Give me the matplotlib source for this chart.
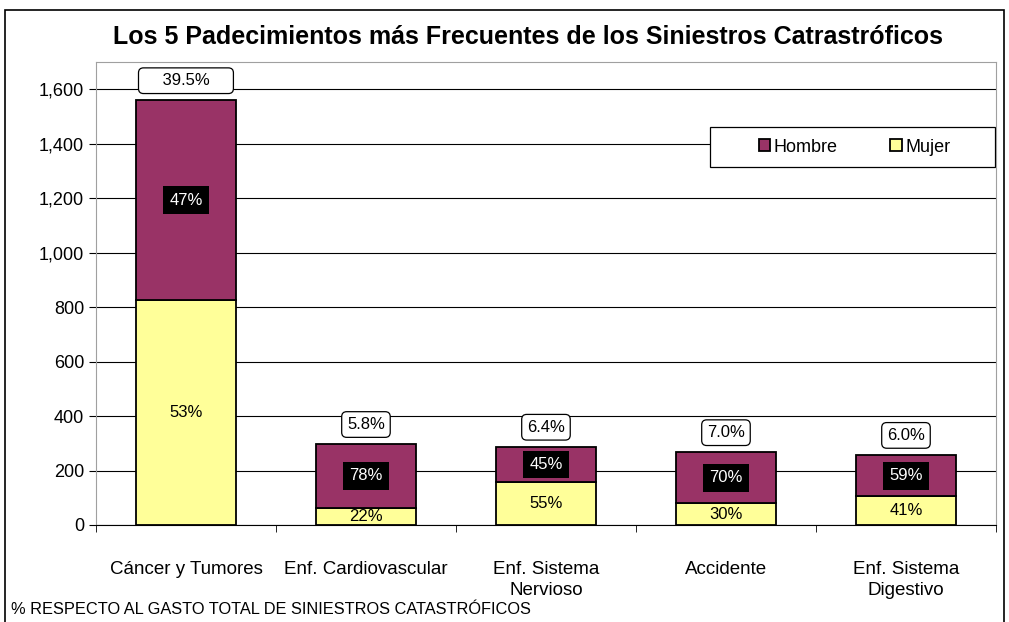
import numpy as np
import matplotlib.pyplot as plt
from matplotlib.patches import Rectangle

plt.rcParams['font.family'] = ['Liberation Sans', 'DejaVu Sans']

# ── Data ──────────────────────────────────────────────────────────────────────
categorias = ['Cáncer y Tumores', 'Enf. Cardiovascular', 'Enf. Sistema\nNervioso',
              'Accidente', 'Enf. Sistema\nDigestivo']
mujer  = [826, 64, 157, 79, 105]
hombre = [734, 233, 130, 188, 152]
pct_mujer  = ['53%', '22%', '55%', '30%', '41%']
pct_hombre = ['47%', '78%', '45%', '70%', '59%']
pct_gasto  = ['39.5%', '5.8%', '6.4%', '7.0%', '6.0%']

C_HOMBRE = '#993366'
C_MUJER  = '#FFFF99'

# ── Figure ────────────────────────────────────────────────────────────────────
fig = plt.figure(figsize=(10.09, 6.22), dpi=100)
ax = fig.add_axes([0.0951, 0.156, 0.892, 0.744])

x = np.arange(len(categorias))
w = 0.555
ax.bar(x, mujer, w, color=C_MUJER, edgecolor='black', linewidth=1.3,
       label='Mujer', zorder=3)
ax.bar(x, hombre, w, bottom=mujer, color=C_HOMBRE, edgecolor='black',
       linewidth=1.3, label='Hombre', zorder=3)

for i in range(len(x)):
    total = mujer[i] + hombre[i]
    ax.text(x[i], mujer[i] / 2, pct_mujer[i], ha='center', va='center',
            fontsize=12, color='black', zorder=4)
    ax.text(x[i], mujer[i] + hombre[i] / 2, pct_hombre[i], ha='center',
            va='center', fontsize=12, color='white', zorder=4,
            bbox=dict(boxstyle='square,pad=0.38', fc='black', ec='none'))
    # the first label box is drawn wider in the original
    lbl = f'    {pct_gasto[i]}    ' if i == 0 else pct_gasto[i]
    ax.text(x[i], total + 72, lbl, ha='center', va='center',
            fontsize=12, color='black', zorder=4,
            bbox=dict(boxstyle='round,pad=0.32,rounding_size=0.3', fc='white',
                      ec='black', lw=0.9))

ax.set_xlim(-0.5, len(x) - 0.5)
ax.set_ylim(0, 1700)
ax.set_yticks(range(0, 1601, 200))
ax.set_yticklabels([f'{v:,}' for v in range(0, 1601, 200)], fontsize=13)
ax.yaxis.grid(True, color='black', linewidth=0.8, zorder=0)
ax.set_axisbelow(True)

ax.set_xticks(x)
ax.set_xticklabels(categorias, fontsize=13.5, linespacing=1.3)
ax.tick_params(axis='x', length=0, pad=26)
ax.set_xticks(np.arange(-0.5, len(x), 1), minor=True)
ax.tick_params(axis='x', which='minor', length=5, direction='out')
ax.tick_params(axis='y', length=5, direction='out')

for s in ['top', 'right', 'left']:
    ax.spines[s].set_color('#a0a0a0')
ax.spines['bottom'].set_color('black')

# legend frame drawn separately so it can be wider than its entries
ax.add_patch(Rectangle((0.682, 0.773), 0.317, 0.087, transform=ax.transAxes,
                       fc='white', ec='black', lw=0.9, zorder=5))
handles, labels = ax.get_legend_handles_labels()
leg = ax.legend(handles[::-1], labels[::-1], ncol=2, loc='center',
                bbox_to_anchor=(0.843, 0.8165), fontsize=13, frameon=False,
                handlelength=0.65, handleheight=0.65, handletextpad=0.2,
                columnspacing=2.9, borderpad=0, borderaxespad=0)
leg.set_zorder(6)

fig.text(0.523, 0.94, 'Los 5 Padecimientos más Frecuentes de los Siniestros Catrastróficos',
         ha='center', va='center', fontsize=18, fontweight='bold')
fig.text(0.011, 0.02, '% RESPECTO AL GASTO TOTAL DE SINIESTROS CATASTRÓFICOS',
         ha='left', va='center', fontsize=11.8)

fig.add_artist(Rectangle((0.005, -0.01), 0.99, 0.994, transform=fig.transFigure,
                         fill=False, edgecolor='black', linewidth=1.2))

fig.savefig('out.png', dpi=100)
